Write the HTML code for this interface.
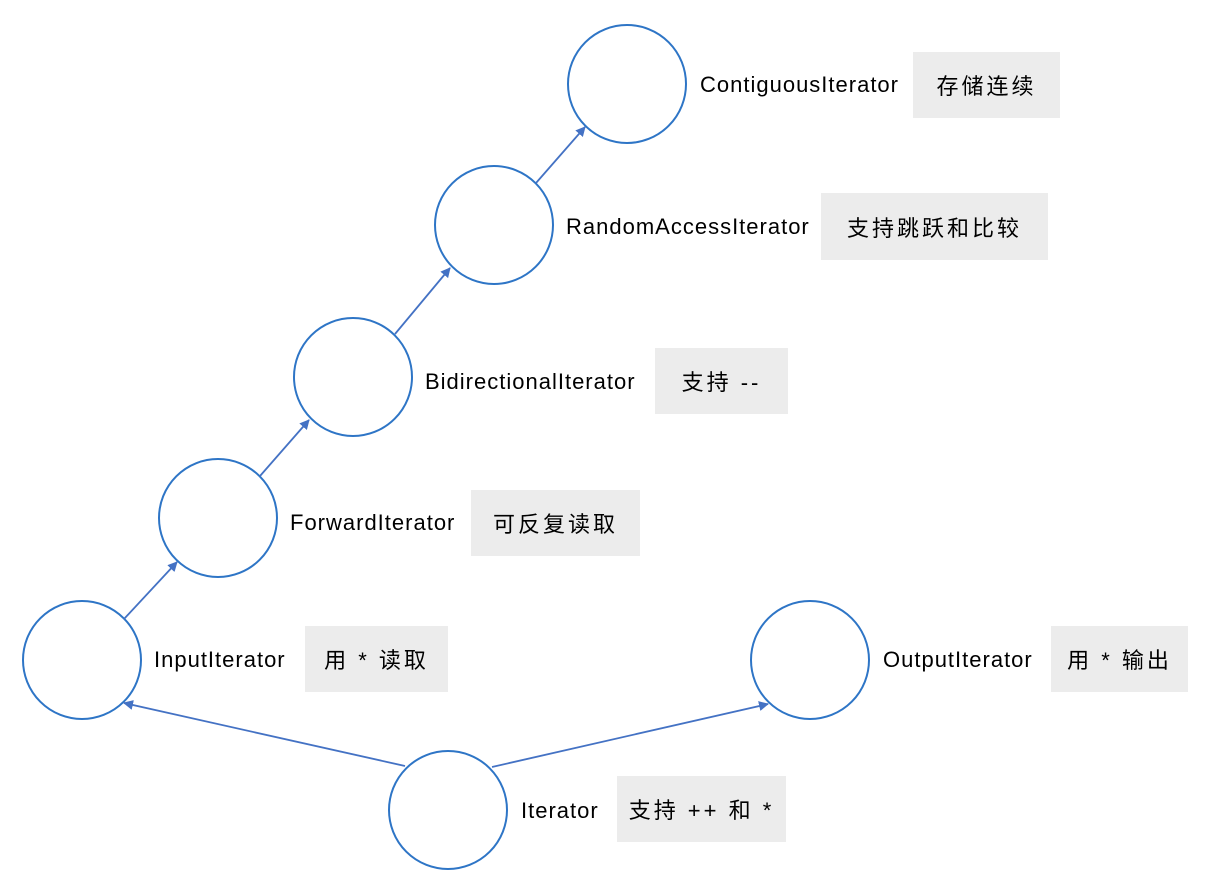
<!DOCTYPE html>
<html><head><meta charset="utf-8"><style>
body{margin:0;background:#fff;width:1218px;height:892px;overflow:hidden;position:relative;font-family:"Liberation Sans",sans-serif}
.l{position:absolute;font-size:22px;letter-spacing:1px;color:#000;line-height:1}
.b{position:absolute;background:#ececec;font-family:"Liberation Sans","Noto Sans CJK SC",sans-serif;font-size:22px;letter-spacing:3px;display:flex;align-items:center;justify-content:center;color:#000}
</style></head><body>
<svg width="1218" height="892" style="position:absolute;left:0;top:0">
<defs><marker id="a" markerWidth="10" markerHeight="10" refX="9" refY="5" orient="auto" markerUnits="userSpaceOnUse"><path d="M0,0 L10,5 L0,10 z" fill="#4472c4"/></marker></defs>
<g fill="#fff" stroke="#2e75c6" stroke-width="2">
<circle cx="627" cy="84" r="59"/>
<circle cx="494" cy="225" r="59"/>
<circle cx="353" cy="377" r="59"/>
<circle cx="218" cy="518" r="59"/>
<circle cx="82" cy="660" r="59"/>
<circle cx="810" cy="660" r="59"/>
<circle cx="448" cy="810" r="59"/>
</g>
<g stroke="#4472c4" stroke-width="1.8" marker-end="url(#a)">
<line x1="124" y1="619" x2="177" y2="562"/>
<line x1="260" y1="476" x2="309" y2="420"/>
<line x1="395" y1="334" x2="450" y2="268"/>
<line x1="536" y1="183" x2="585" y2="127"/>
<line x1="405" y1="766" x2="124" y2="703"/>
<line x1="492" y1="767" x2="768" y2="704"/>
</g>
</svg>
<div class="l" style="left:700px;top:74px">ContiguousIterator</div>
<div class="l" style="left:566px;top:216px">RandomAccessIterator</div>
<div class="l" style="left:425px;top:371px">BidirectionalIterator</div>
<div class="l" style="left:290px;top:512px">ForwardIterator</div>
<div class="l" style="left:154px;top:649px">InputIterator</div>
<div class="l" style="left:883px;top:649px">OutputIterator</div>
<div class="l" style="left:521px;top:800px">Iterator</div>
<div class="b" style="left:913px;top:52px;width:147px;height:66px">存储连续</div>
<div class="b" style="left:821px;top:193px;width:227px;height:67px">支持跳跃和比较</div>
<div class="b" style="left:655px;top:348px;width:133px;height:66px">支持 --</div>
<div class="b" style="left:471px;top:490px;width:169px;height:66px">可反复读取</div>
<div class="b" style="left:305px;top:626px;width:143px;height:66px">用 * 读取</div>
<div class="b" style="left:1051px;top:626px;width:137px;height:66px">用 * 输出</div>
<div class="b" style="left:617px;top:776px;width:169px;height:66px">支持 ++ 和 *</div>
</body></html>
